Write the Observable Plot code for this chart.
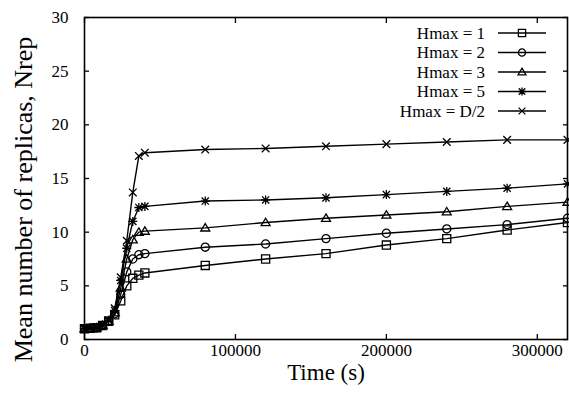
<!DOCTYPE html>
<html>
<head>
<meta charset="utf-8">
<script src="https://cdn.jsdelivr.net/npm/d3@7"></script>
<script src="https://cdn.jsdelivr.net/npm/@observablehq/plot@0.6"></script>
<style>
  html, body { margin: 0; padding: 0; background: #fff; }
  #chart svg { display: block; }
  #chart svg text { font-family: 'Liberation Serif', 'Times New Roman', serif; }
</style>
</head>
<body>
<div id="chart"></div>
<script>
// Sampling times (s)
const times = [0, 4000, 8000, 12000, 16000, 20000, 24000, 28000, 32000, 36000, 40000,
               80000, 120000, 160000, 200000, 240000, 280000, 320000];

// Mean number of replicas for each Hmax setting
const seriesNames = ["Hmax = 1", "Hmax = 2", "Hmax = 3", "Hmax = 5", "Hmax = D/2"];
const hmax1  = [1.0, 1.05, 1.1, 1.3, 1.7, 2.3, 3.6, 5.0, 5.7, 6.0, 6.2, 6.9, 7.5, 8.0, 8.8, 9.4, 10.2, 10.9];
const hmax2  = [1.0, 1.05, 1.1, 1.3, 1.7, 2.4, 4.2, 6.3, 7.5, 7.9, 8.0, 8.6, 8.9, 9.4, 9.9, 10.3, 10.7, 11.3];
const hmax3  = [1.0, 1.05, 1.1, 1.3, 1.7, 2.5, 4.8, 7.5, 9.3, 10.0, 10.1, 10.4, 10.9, 11.3, 11.6, 11.9, 12.4, 12.8];
const hmax5  = [1.0, 1.05, 1.1, 1.3, 1.8, 2.7, 5.5, 8.5, 11.0, 12.3, 12.4, 12.9, 13.0, 13.2, 13.5, 13.8, 14.1, 14.5];
const hmaxD2 = [1.0, 1.05, 1.1, 1.3, 1.8, 2.9, 5.8, 9.2, 13.7, 17.1, 17.4, 17.7, 17.8, 18.0, 18.2, 18.4, 18.6, 18.6];

const xTicks = [0, 100000, 200000, 300000];
const yTicks = [0, 5, 10, 15, 20, 25, 30];

// gnuplot-like point types; half() gives the nominal half-size of the point
const half = (size) => Math.sqrt(size / Math.PI);
const symbolBox = {
  draw(ctx, size) {
    const s = half(size) * 0.9;
    ctx.moveTo(-s, -s); ctx.lineTo(s, -s); ctx.lineTo(s, s); ctx.lineTo(-s, s); ctx.closePath();
  }
};
const symbolRing = {
  draw(ctx, size) {
    const r = half(size) * 0.9;
    ctx.moveTo(r, 0); ctx.arc(0, 0, r, 0, 2 * Math.PI);
  }
};
const symbolTri = {
  draw(ctx, size) {
    const h = half(size);
    ctx.moveTo(0, -h * 0.95); ctx.lineTo(h, h * 0.7); ctx.lineTo(-h, h * 0.7); ctx.closePath();
  }
};
// "*": a plus and a cross overlaid
const symbolStar = {
  draw(ctx, size) {
    const r = half(size);
    const d = r * 0.8;
    ctx.moveTo(-r, 0); ctx.lineTo(r, 0);
    ctx.moveTo(0, -r); ctx.lineTo(0, r);
    ctx.moveTo(-d, -d); ctx.lineTo(d, d);
    ctx.moveTo(-d, d); ctx.lineTo(d, -d);
  }
};
const symbolCross = {
  draw(ctx, size) {
    const r = half(size) * 0.85;
    ctx.moveTo(-r, -r); ctx.lineTo(r, r);
    ctx.moveTo(-r, r); ctx.lineTo(r, -r);
  }
};
const symbols = [symbolBox, symbolRing, symbolTri, symbolStar, symbolCross];

const valueSets = [hmax1, hmax2, hmax3, hmax5, hmaxD2];
const rows = valueSets.flatMap((vals, s) =>
  vals.map((v, i) => ({series: seriesNames[s], time: times[i], value: v})));

const W = 569, H = 399;
const font = "'Liberation Serif', 'Times New Roman', serif";
const R = 4.5;

const plot = Plot.plot({
  width: W,
  height: H,
  marginLeft: 84,
  marginRight: 2,
  marginTop: 17,
  marginBottom: 60,
  style: {fontFamily: font, fontSize: "17px", color: "#000", background: "#fff"},
  x: {domain: [0, 320000]},
  y: {domain: [0, 30]},
  symbol: {domain: seriesNames, range: symbols},
  marks: [
    Plot.line(rows, {x: "time", y: "value", z: "series", stroke: "#000", strokeWidth: 1.4}),
    Plot.dot(rows, {x: "time", y: "value", symbol: "series", r: R, stroke: "#000", strokeWidth: 1.3, fill: "none"}),
    // inward ticks on all four sides
    Plot.axisX(xTicks, {anchor: "bottom", tickSize: -5, fill: "none", stroke: "#000", strokeWidth: 1.3, label: null}),
    Plot.axisX(xTicks, {anchor: "top", tickSize: -5, fill: "none", stroke: "#000", strokeWidth: 1.3, label: null}),
    Plot.axisY(yTicks, {anchor: "left", tickSize: -5, fill: "none", stroke: "#000", strokeWidth: 1.3, label: null}),
    Plot.axisY(yTicks, {anchor: "right", tickSize: -5, fill: "none", stroke: "#000", strokeWidth: 1.3, label: null}),
    // tick labels
    Plot.axisX(xTicks, {anchor: "bottom", tickSize: 0, tickPadding: 4, fontSize: 17, fontFamily: font, tickFormat: d => String(d), label: null}),
    Plot.axisY(yTicks, {anchor: "left", tickSize: 0, tickPadding: 16, fontSize: 17, fontFamily: font, label: null}),
    Plot.frame({stroke: "#000", strokeWidth: 1.6}),
    // axis titles
    Plot.text(["Time (s)"], {frameAnchor: "bottom", textAnchor: "middle", dy: 40, text: d => d, fontSize: 23, fontFamily: font, fill: "#000"}),
    Plot.text(["Mean number of replicas, Nrep"], {frameAnchor: "left", textAnchor: "middle", dx: -61, dy: 21, rotate: -90, text: d => d, fontSize: 26, fontFamily: font, fill: "#000"})
  ]
});

// Key in the upper right of the frame
const svg = d3.select(plot);
const key = svg.append("g").attr("font-family", font).attr("font-size", 17);
const textRight = 485, lineX1 = 498, lineX2 = 546, rowY0 = 33, rowStep = 19.5;
seriesNames.forEach((name, i) => {
  const y = rowY0 + i * rowStep;
  key.append("text").attr("x", textRight).attr("y", y).attr("dy", "0.35em")
    .attr("text-anchor", "end").attr("fill", "#000").text(name);
  key.append("line").attr("x1", lineX1).attr("x2", lineX2).attr("y1", y).attr("y2", y)
    .attr("stroke", "#000").attr("stroke-width", 1.4);
  key.append("path").attr("transform", `translate(${(lineX1 + lineX2) / 2},${y})`)
    .attr("d", d3.symbol(symbols[i], 4 * 4 * Math.PI)())
    .attr("fill", "none").attr("stroke", "#000").attr("stroke-width", 1.3);
});

document.getElementById("chart").appendChild(plot);
</script>
</body>
</html>
